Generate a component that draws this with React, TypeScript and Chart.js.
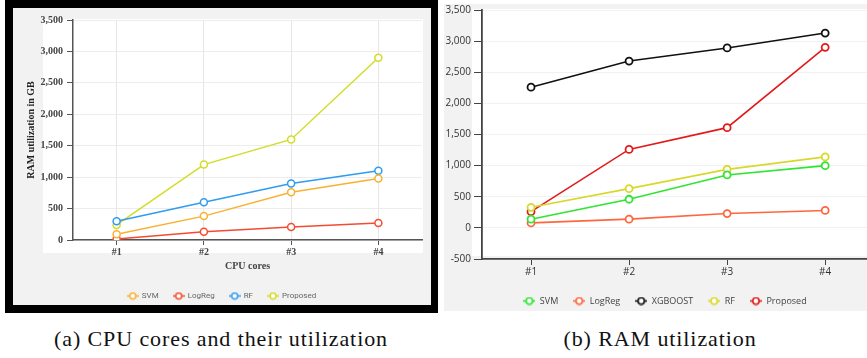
import React, { useEffect, useRef } from "react";
import { Chart, registerables } from "chart.js";

Chart.register(...registerables);

// ---------- data ----------
const categories = ["#1", "#2", "#3", "#4"];

// (a) CPU cores and their utilization
const cpuSvm = [90, 380, 760, 980];
const cpuLogReg = [15, 130, 205, 270];
const cpuRf = [300, 600, 900, 1100];
const cpuProposed = [240, 1200, 1600, 2900];

// (b) RAM utilization
const ramSvm = [140, 460, 850, 1000];
const ramLogReg = [80, 140, 230, 280];
const ramXgboost = [2260, 2680, 2890, 3130];
const ramRf = [330, 630, 940, 1140];
const ramProposed = [260, 1260, 1610, 2900];

const captionA = "(a) CPU cores and their utilization";
const captionB = "(b) RAM utilization";

// ---------- helpers ----------
function makeIcon(color: string, w: number, h: number, r: number, lw: number) {
  const c = document.createElement("canvas");
  c.width = w;
  c.height = h;
  const ctx = c.getContext("2d")!;
  ctx.strokeStyle = color;
  ctx.lineWidth = lw;
  ctx.beginPath();
  ctx.moveTo(0, h / 2);
  ctx.lineTo(w, h / 2);
  ctx.stroke();
  ctx.beginPath();
  ctx.arc(w / 2, h / 2, r, 0, Math.PI * 2);
  ctx.fillStyle = "#ffffff";
  ctx.fill();
  ctx.stroke();
  return c;
}

const fmt = (v: any) => Number(v).toLocaleString("en-US");

function ds(label: string, data: number[], color: string, lw: number, bw: number) {
  return {
    label,
    data,
    borderColor: color,
    backgroundColor: color,
    borderWidth: lw,
    pointRadius: 3.5,
    pointBorderWidth: bw,
    pointBackgroundColor: "#ffffff",
    pointBorderColor: color,
    tension: 0,
    fill: false,
  };
}

function legendShift(dx: number) {
  return {
    id: "legendShift",
    afterLayout(chart: any) {
      const l = chart.legend;
      if (l) {
        l.left += dx;
        l.right += dx;
      }
    },
  };
}

function LeftChart() {
  const ref = useRef<HTMLCanvasElement>(null);
  useEffect(() => {
    const colors = ["#f8b133", "#f44c30", "#2f9cf0", "#d3dc27"];
    const icons = colors.map((c) => makeIcon(c, 12, 9, 3, 1.5));
    const serif = "'Liberation Serif', 'Times New Roman', serif";
    const chart = new Chart(ref.current!, {
      type: "line",
      data: {
        labels: categories,
        datasets: [
          ds("SVM", cpuSvm, colors[0], 1.5, 1.5),
          ds("LogReg", cpuLogReg, colors[1], 1.5, 1.5),
          ds("RF", cpuRf, colors[2], 1.5, 1.5),
          ds("Proposed", cpuProposed, colors[3], 1.5, 1.5),
        ],
      },
      options: {
        responsive: false,
        animation: false,
        layout: { padding: { left: 22, right: 18, top: 20, bottom: 10 } },
        plugins: {
          tooltip: { enabled: false },
          legend: {
            position: "bottom",
            labels: {
              usePointStyle: true,
              pointStyleWidth: 10,
              padding: 15,
              color: "#666",
              font: { family: "Roboto, sans-serif", size: 8 },
              generateLabels: (ch: any) => {
                const items = (Chart as any).defaults.plugins.legend.labels.generateLabels(ch);
                items.forEach((it: any) => {
                  it.pointStyle = icons[it.datasetIndex];
                });
                return items;
              },
            },
          },
        },
        scales: {
          x: {
            offset: true,
            grid: { color: "#e6e6e6", tickColor: "#555", tickLength: 5 },
            border: { color: "#555", width: 1.5 },
            ticks: { padding: 1, color: "#444", font: { family: serif, size: 10, weight: "bold" } },
            title: {
              display: true,
              text: "CPU cores",
              color: "#444",
              font: { family: serif, size: 10, weight: "bold" },
              padding: { top: 0, bottom: 5 },
            },
            afterFit: (s: any) => {
              s.height = 37;
            },
          },
          y: {
            min: 0,
            max: 3500,
            grid: { color: "#ececec", tickColor: "#555", tickLength: 6 },
            border: { color: "#555", width: 1.5 },
            ticks: {
              stepSize: 500,
              padding: 4,
              color: "#444",
              font: { family: serif, size: 10, weight: "bold" },
              callback: fmt,
            },
            title: {
              display: true,
              text: "RAM utilization in GB",
              color: "#222",
              font: { family: serif, size: 10, weight: "bold" },
              padding: { top: 3, bottom: 0 },
            },
            afterFit: (s: any) => {
              s.width = 51;
            },
          },
        },
      } as any,
    });
    return () => chart.destroy();
  }, []);
  return (
    <canvas
      ref={ref}
      width={440}
      height={320}
      style={{ position: "absolute", left: 0, top: 0, width: 440, height: 320 }}
    />
  );
}

function RightChart() {
  const ref = useRef<HTMLCanvasElement>(null);
  useEffect(() => {
    const colors = ["#2fe52f", "#ff663d", "#111111", "#d8d82b", "#e31a1c"];
    const icons = colors.map((c) => makeIcon(c, 12, 9, 3.2, 1.6));
    const sans = "'Open Sans', 'DejaVu Sans', sans-serif";
    const chart = new Chart(ref.current!, {
      type: "line",
      data: {
        labels: categories,
        datasets: [
          ds("SVM", ramSvm, colors[0], 1.6, 1.8),
          ds("LogReg", ramLogReg, colors[1], 1.6, 1.8),
          ds("XGBOOST", ramXgboost, colors[2], 1.6, 1.8),
          ds("RF", ramRf, colors[3], 1.6, 1.8),
          ds("Proposed", ramProposed, colors[4], 1.6, 1.8),
        ],
      },
      plugins: [legendShift(6)],
      options: {
        responsive: false,
        animation: false,
        layout: { padding: { left: 3, right: 5, top: 10, bottom: 4.5 } },
        plugins: {
          tooltip: { enabled: false },
          legend: {
            position: "bottom",
            labels: {
              usePointStyle: true,
              pointStyleWidth: 12,
              padding: 15,
              color: "#444",
              font: { family: sans, size: 9 },
              generateLabels: (ch: any) => {
                const items = (Chart as any).defaults.plugins.legend.labels.generateLabels(ch);
                items.forEach((it: any) => {
                  it.pointStyle = icons[it.datasetIndex];
                });
                return items;
              },
            },
          },
        },
        scales: {
          x: {
            offset: true,
            grid: { drawOnChartArea: false, tickColor: "#444", tickLength: 6 },
            border: { color: "#444", width: 1.8 },
            ticks: { padding: 1, color: "#333", font: { family: sans, size: 10 } },
            afterFit: (s: any) => {
              s.height = 22.5;
            },
          },
          y: {
            min: -500,
            max: 3500,
            grid: { color: "#f1f1f1", tickColor: "#444", tickLength: 8 },
            border: { color: "#444", width: 1.8 },
            ticks: {
              stepSize: 500,
              padding: 3,
              color: "#333",
              font: { family: sans, size: 10 },
              callback: fmt,
            },
            afterFit: (s: any) => {
              s.width = 39;
            },
          },
        },
      } as any,
    });
    return () => chart.destroy();
  }, []);
  return (
    <canvas
      ref={ref}
      width={440}
      height={320}
      style={{ position: "absolute", left: 440, top: 0, width: 440, height: 320 }}
    />
  );
}

export default function App() {
  const abs = (l: number, t: number, w: number, h: number, bg: string): React.CSSProperties => ({
    position: "absolute",
    left: l,
    top: t,
    width: w,
    height: h,
    background: bg,
  });
  const capStyle = (center: number): React.CSSProperties => ({
    position: "absolute",
    left: center - 250,
    width: 500,
    top: 325,
    height: 28,
    lineHeight: "28px",
    textAlign: "center",
    fontFamily: "'Liberation Serif', 'Times New Roman', serif",
    fontSize: 22,
    letterSpacing: "0.9px",
    color: "#111",
    whiteSpace: "nowrap",
  });
  return (
    <div
      style={{
        position: "fixed",
        left: 0,
        top: 0,
        width: 867,
        height: 358,
        overflow: "hidden",
        background: "#ffffff",
      }}
    >
      {/* panel (a) */}
      <div style={abs(5, 0, 433, 313, "#000000")} />
      <div style={abs(13, 8, 418, 297, "#f2f2f2")} />
      <div style={abs(43, 19, 380, 234, "#ffffff")} />
      <LeftChart />
      {/* panel (b) */}
      <div style={abs(444, 4, 423, 307, "#f2f2f2")} />
      <div style={abs(472, 9, 395, 247, "#ffffff")} />
      <RightChart />
      {/* captions */}
      <div style={capStyle(221)}>{captionA}</div>
      <div style={capStyle(660)}>{captionB}</div>
    </div>
  );
}
